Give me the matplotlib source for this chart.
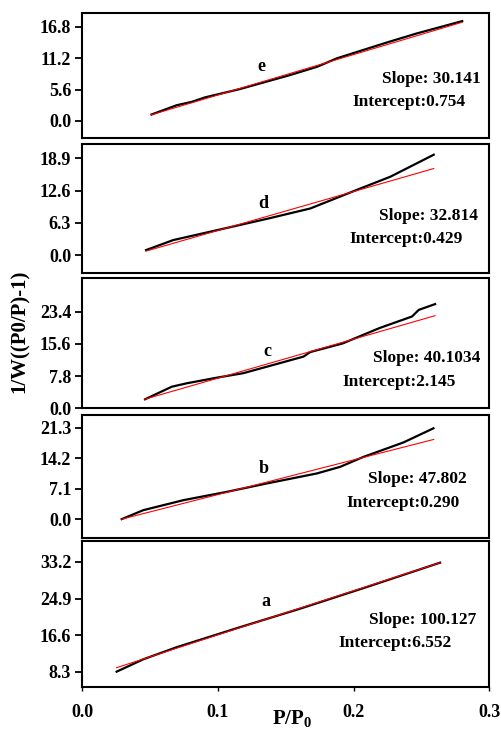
import matplotlib.pyplot as plt
import numpy as np

plt.rcParams['font.family'] = ['Liberation Serif', 'DejaVu Serif']
plt.rcParams['font.weight'] = 'bold'
plt.rcParams['mathtext.fontset'] = 'custom'
plt.rcParams['mathtext.rm'] = 'Liberation Serif:bold'
plt.rcParams['mathtext.default'] = 'rm'

x_e = [0.051, 0.0696, 0.0807, 0.0905, 0.116, 0.153, 0.173, 0.1875, 0.224, 0.2465, 0.280]
y_e = [1.14, 2.8, 3.4, 4.2, 5.67, 8.17, 9.65, 11.15, 13.95, 15.6, 17.8]
x_d = [0.047, 0.067, 0.1015, 0.138, 0.168, 0.202, 0.227, 0.259]
y_d = [0.98, 2.93, 5.0, 7.2, 9.1, 12.7, 15.3, 19.6]
x_c = [0.0462, 0.066, 0.077, 0.099, 0.1187, 0.163, 0.168, 0.192, 0.219, 0.243, 0.248, 0.260]
y_c = [2.18, 5.23, 6.05, 7.4, 8.5, 12.5, 13.6, 15.7, 19.4, 22.2, 23.8, 25.2]
x_b = [0.029, 0.045, 0.0745, 0.1065, 0.136, 0.1728, 0.19, 0.207, 0.2367, 0.2588]
y_b = [0.0, 2.1, 4.43, 6.37, 8.33, 10.66, 12.2, 14.5, 17.9, 21.2]
x_a = [0.0253, 0.045, 0.0696, 0.116, 0.1605, 0.2097, 0.2637]
y_a = [8.37, 11.17, 13.9, 18.4, 22.6, 27.5, 33.0]

# fitted lines: end points
fit_x = {'e': [0.051, 0.280], 'd': [0.047, 0.259], 'c': [0.046, 0.260],
         'b': [0.029, 0.259], 'a': [0.0253, 0.2637]}
fit_y = {'e': [1.1, 17.6], 'd': [0.78, 16.9], 'c': [2.2, 22.4],
         'b': [0.0, 18.6], 'a': [9.27, 33.0]}

slopes = {'e': '30.141', 'd': '32.814', 'c': '40.1034', 'b': '47.802', 'a': '100.127'}
intercepts = {'e': '0.754', 'd': '0.429', 'c': '2.145', 'b': '0.290', 'a': '6.552'}

yticks = {'e': [0.0, 5.6, 11.2, 16.8], 'd': [0.0, 6.3, 12.6, 18.9],
          'c': [0.0, 7.8, 15.6, 23.4], 'b': [0.0, 7.1, 14.2, 21.3],
          'a': [8.3, 16.6, 24.9, 33.2]}
ylims = {'e': (-3.1, 19.2), 'd': (-3.5, 21.7), 'c': (0.0, 31.5),
         'b': (-4.4, 24.3), 'a': (4.9, 37.9)}

data = {'e': (x_e, y_e), 'd': (x_d, y_d), 'c': (x_c, y_c),
        'b': (x_b, y_b), 'a': (x_a, y_a)}

# axes boxes [bottom, height] in figure fraction
boxes = {'e': (0.8103, 0.1715), 'd': (0.6255, 0.1770), 'c': (0.4399, 0.1787),
         'b': (0.2620, 0.1687), 'a': (0.0576, 0.2003)}
# text positions (axes fraction): letter, slope, intercept
letter_pos = {'e': (0.44, 0.573), 'd': (0.445, 0.535), 'c': (0.455, 0.434),
              'b': (0.446, 0.567), 'a': (0.45, 0.589)}
slope_pos = {'e': (0.979, 0.472), 'd': (0.973, 0.442), 'c': (0.977, 0.388),
             'b': (0.944, 0.477), 'a': (0.969, 0.459)}
int_pos = {'e': (0.941, 0.293), 'd': (0.935, 0.261), 'c': (0.918, 0.200),
           'b': (0.928, 0.287), 'a': (0.907, 0.300)}

fig = plt.figure(figsize=(5.01, 7.29), dpi=100)

for key in ['e', 'd', 'c', 'b', 'a']:
    bottom, height = boxes[key]
    ax = fig.add_axes([0.1643, bottom, 0.8124, height])
    xs, ys = data[key]
    ax.plot(xs, ys, color='black', lw=1.6, zorder=2)
    ax.plot(fit_x[key], fit_y[key], color='red', lw=0.8, zorder=3)
    ax.set_xlim(0, 0.3)
    ax.set_ylim(*ylims[key])
    ax.set_yticks(yticks[key])
    ax.set_yticklabels([f'{v:.1f}' for v in yticks[key]], fontsize=13, fontweight='bold')
    ax.tick_params(axis='y', direction='out', length=5, width=1.3, pad=3)
    if key == 'a':
        ax.set_xticks([0.0, 0.1, 0.2, 0.3])
        ax.set_xticklabels(['0.0', '0.1', '0.2', '0.3'], fontsize=13, fontweight='bold')
        ax.tick_params(axis='x', direction='out', length=3, width=1.0, pad=9)
    else:
        ax.set_xticks([])
    for sp in ax.spines.values():
        sp.set_linewidth(1.5)
    ax.text(*letter_pos[key], key, transform=ax.transAxes, ha='center', va='center',
            fontsize=13, fontweight='bold')
    ax.text(*slope_pos[key], 'Slope: ' + slopes[key], transform=ax.transAxes,
            ha='right', va='center', fontsize=12.5, fontweight='bold')
    ax.text(*int_pos[key], 'Intercept:' + intercepts[key], transform=ax.transAxes,
            ha='right', va='center', fontsize=12.5, fontweight='bold')

fig.text(0.04, 0.545, '1/W((P0/P)-1)', rotation=90, ha='center', va='center',
         fontsize=15, fontweight='bold')
fig.text(0.583, 0.007, 'P/P$_0$', ha='center', va='baseline', fontsize=15, fontweight='bold')

fig.savefig('out.png', dpi=100)
